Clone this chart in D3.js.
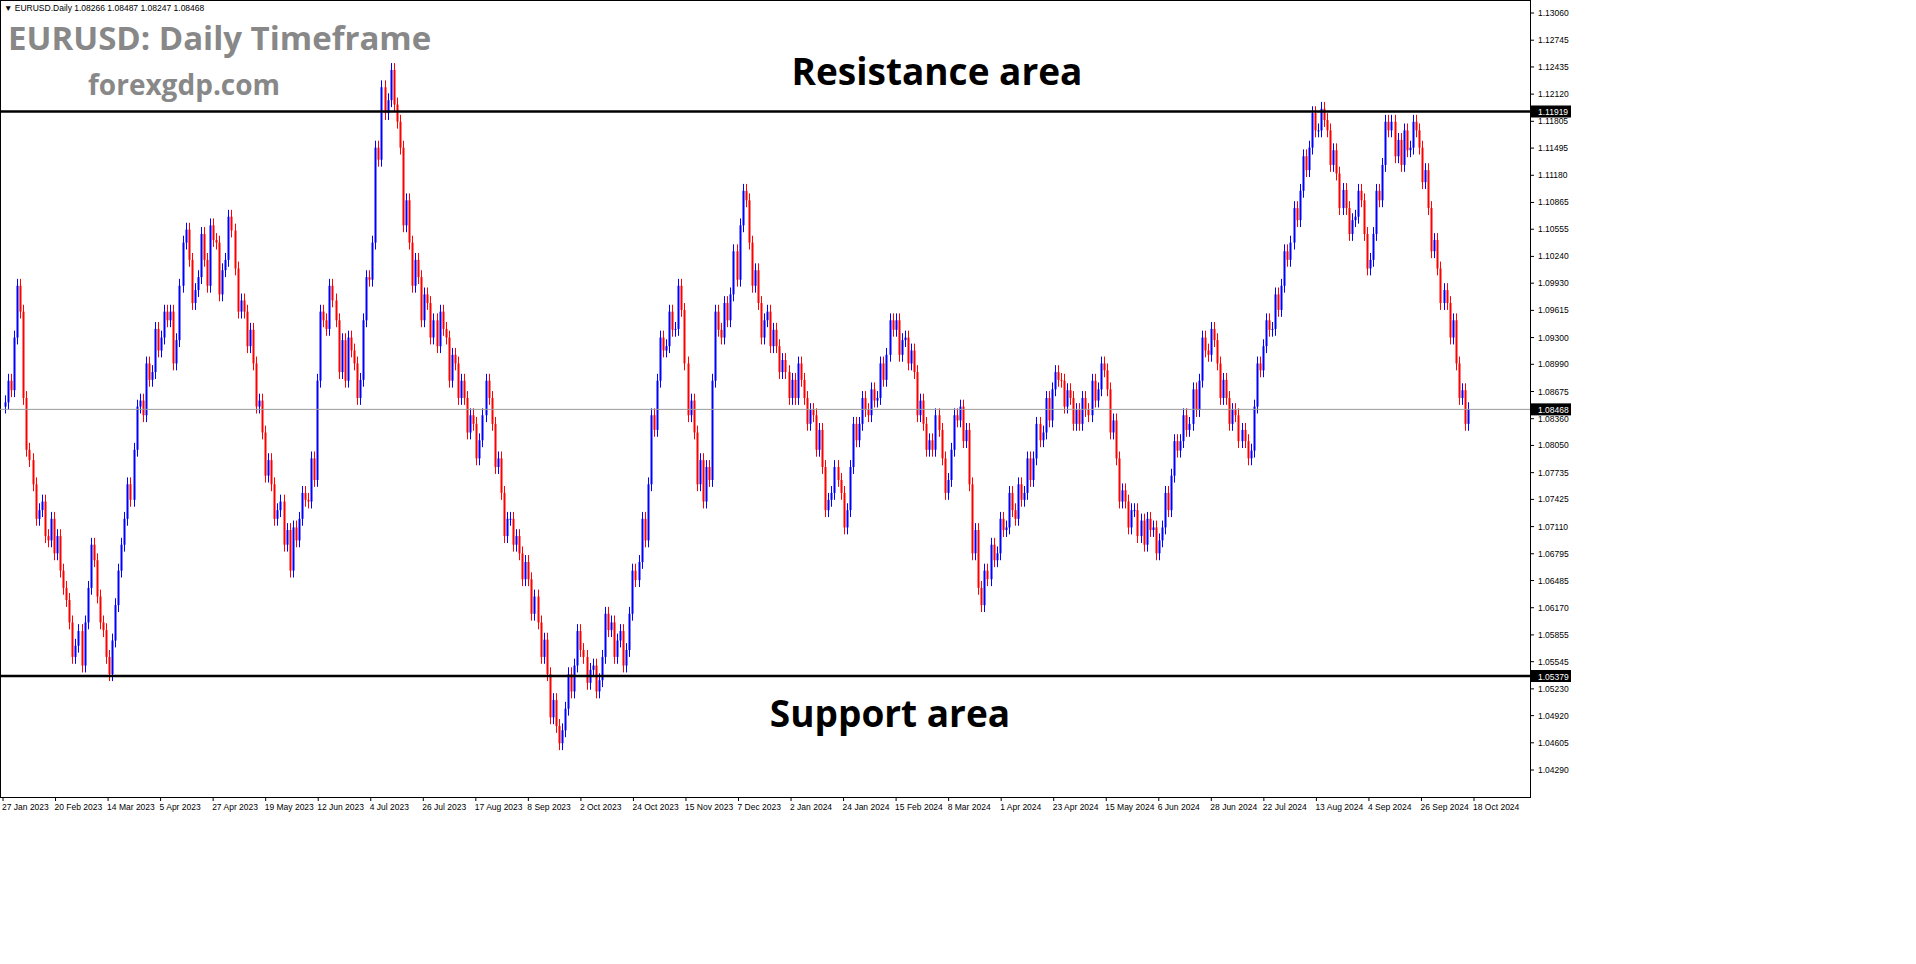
<!DOCTYPE html>
<html><head><meta charset="utf-8">
<script src="https://cdn.jsdelivr.net/npm/d3@7"></script>
<style>body{margin:0;background:#fff;}svg{display:block;font-family:"Liberation Sans",Arial,sans-serif;}</style>
</head><body><svg id="c" width="1916" height="964"></svg>
<script>
// Daily closes (price * 10000)
const closes = [
10855,10880,10869, 10930,10990,10960, 10860,10800,10788, 10760,10720,10730, 10740,10700,10695, 10720,10680,10700,
10660,10640,10626, 10600,10560,10573, 10590,10550,10600, 10640,10690,10672, 10630,10600,10591, 10560,10540,10579,
10620,10660,10690, 10720,10760,10742, 10800,10850,10857, 10840,10900,10881, 10890,10940,10915, 10930,10960,10950,
10960,10900,10927, 10990,11040,11055, 11020,10970,10985, 11000,11050,11020, 10990,11060,11043, 11040,10980,11008,
11020,11070,11054, 11010,10960,10973, 10960,10920,10939, 10900,10850,10857, 10820,10770,10788, 10760,10720,10730,
10740,10690,10707, 10660,10710,10695, 10720,10750,10742, 10740,10790,10765, 10880,10960,10950, 10940,10990,10973,
10950,10890,10927, 10880,10930,10915, 10900,10860,10881, 10950,11000,10997, 11040,11150,11136, 11220,11190,11205,
11240,11200,11180, 11150,11060,11089, 11040,10990,11020, 11000,10950,10980, 10970,10930,10950, 10920,10960,10940,
10930,10880,10910, 10900,10860,10880, 10860,10820,10840, 10830,10790,10811, 10840,10880,10860, 10830,10780,10790,
10750,10700,10720, 10720,10690,10700, 10680,10650,10670, 10650,10610,10630, 10600,10560,10580, 10540,10490,10510,
10480,10460,10475, 10500,10540,10520, 10550,10590,10568, 10560,10530,10545, 10550,10520,10533, 10560,10610,10591,
10600,10560,10579, 10590,10550,10568, 10610,10660,10649, 10670,10720,10695, 10760,10840,10823, 10880,10930,10915,
10920,10960,10939, 10940,10990,10962, 10900,10840,10857, 10820,10760,10788, 10740,10780,10765, 10880,10960,10939,
10930,10970,10950, 10980,11030,10997, 11060,11100,11089, 11040,10990,11008, 10970,10930,10950, 10960,10920,10939,
10920,10890,10904, 10890,10860,10881, 10860,10900,10881, 10860,10830,10846, 10840,10800,10823, 10780,10730,10742,
10750,10780,10765, 10750,10710,10730, 10780,10830,10811, 10830,10860,10846, 10840,10870,10857, 10860,10900,10881,
10910,10950,10939, 10950,10910,10927, 10930,10900,10915, 10890,10840,10857, 10830,10800,10811, 10800,10840,10823,
10790,10750,10765, 10800,10840,10834, 10850,10810,10823, 10760,10680,10707, 10640,10620,10660, 10650,10690,10672,
10680,10720,10707, 10710,10750,10730, 10720,10760,10742, 10750,10790,10765, 10790,10830,10811, 10820,10860,10834,
10870,10890,10881, 10880,10850,10869, 10860,10830,10846, 10830,10860,10846, 10840,10880,10857, 10870,10900,10892,
10870,10820,10834, 10790,10740,10753, 10740,10710,10730, 10730,10700,10718, 10690,10720,10707, 10710,10680,10695,
10710,10750,10730, 10770,10810,10799, 10810,10840,10823, 10830,10870,10846, 10880,10930,10915, 10910,10940,10927,
10900,10860,10881, 10860,10830,10846, 10840,10810,10823, 10810,10790,10799, 10850,10900,10892, 10920,10950,10939,
10940,10980,10962, 10990,11030,11020, 11040,11080,11066, 11100,11140,11124, 11150,11190,11170, 11170,11195,11182,
11170,11130,11147, 11120,11080,11101, 11080,11050,11066, 11070,11100,11089, 11050,11010,11020, 11050,11100,11089,
11130,11180,11170, 11180,11140,11159, 11130,11170,11147, 11150,11180,11170, 11150,11110,11124, 11080,11030,11043,
11010,10970,10985, 10970,10930,10950, 10900,10860,10869, 10830,10847
];
const priceTicks = ["1.13060","1.12745","1.12435","1.12120","1.11805","1.11495","1.11180","1.10865","1.10555","1.10240","1.09930","1.09615","1.09300","1.08990","1.08675","1.08360","1.08050","1.07735","1.07425","1.07110","1.06795","1.06485","1.06170","1.05855","1.05545","1.05230","1.04920","1.04605","1.04290"];
const dateLabels = ["27 Jan 2023","20 Feb 2023","14 Mar 2023","5 Apr 2023","27 Apr 2023","19 May 2023","12 Jun 2023","4 Jul 2023","26 Jul 2023","17 Aug 2023","8 Sep 2023","2 Oct 2023","24 Oct 2023","15 Nov 2023","7 Dec 2023","2 Jan 2024","24 Jan 2024","15 Feb 2024","8 Mar 2024","1 Apr 2024","23 Apr 2024","15 May 2024","6 Jun 2024","28 Jun 2024","22 Jul 2024","13 Aug 2024","4 Sep 2024","26 Sep 2024","18 Oct 2024"];
const levels = {resistance:1.11919, support:1.05379, last:1.08468};

const svg = d3.select("#c");
const R=1530, B=797;
const y = d3.scaleLinear().domain([1.0429,1.1306]).range([770,13]);
const N = closes.length;
const x = d3.scaleLinear().domain([0,N-1]).range([5,1468]);
const xd = d3.scaleLinear().domain([0,28]).range([3,1474]);

svg.append("rect").attr("x",0.5).attr("y",0.5).attr("width",R).attr("height",B).attr("fill","#fff").attr("stroke","#000");

const data = closes.map((c,i)=>{const o = i? closes[i-1]/1e4 : 1.0850; const cl=c/1e4; return {i,o,c:cl,h:Math.max(o,cl)+0.0008,l:Math.min(o,cl)-0.0008};});
const g = svg.append("g");
data.forEach(d=>{
  const col = d.c>=d.o ? "#0000ff" : "#ff0000";
  const xx = Math.round(x(d.i))+0.5;
  g.append("line").attr("x1",xx).attr("x2",xx).attr("y1",y(d.h)).attr("y2",y(d.l)).attr("stroke",col).attr("stroke-width",1);
  g.append("rect").attr("x",xx-1).attr("width",2).attr("y",y(Math.max(d.o,d.c))).attr("height",Math.max(1,Math.abs(y(d.o)-y(d.c)))).attr("fill",col);
});

svg.append("line").attr("x1",0).attr("x2",R).attr("y1",y(levels.last)).attr("y2",y(levels.last)).attr("stroke","#999").attr("stroke-width",1);
[levels.resistance,levels.support].forEach(v=>svg.append("line").attr("x1",0).attr("x2",R).attr("y1",y(v)).attr("y2",y(v)).attr("stroke","#000").attr("stroke-width",2.5));

priceTicks.forEach(t=>{
  const yy=y(+t);
  svg.append("line").attr("x1",R).attr("x2",R+4).attr("y1",yy).attr("y2",yy).attr("stroke","#000");
  svg.append("text").attr("x",R+8).attr("y",yy+3).attr("font-size",8.5).text(t);
});
[[levels.resistance,"1.11919"],[levels.support,"1.05379"],[levels.last,"1.08468"]].forEach(([v,t])=>{
  svg.append("rect").attr("x",R+1).attr("y",y(v)-6).attr("width",40).attr("height",12).attr("fill","#000");
  svg.append("text").attr("x",R+8).attr("y",y(v)+3.5).attr("font-size",8.5).attr("fill","#fff").text(t);
});

dateLabels.forEach((t,k)=>{
  const xx=xd(k);
  svg.append("line").attr("x1",xx).attr("x2",xx).attr("y1",B).attr("y2",B+4).attr("stroke","#000");
  svg.append("text").attr("x",xx-1).attr("y",B+13).attr("font-size",8.5).text(t);
});

svg.append("text").attr("x",4).attr("y",11).attr("font-size",8.5).text("▼ EURUSD.Daily  1.08266 1.08487 1.08247 1.08468");
svg.append("text").attr("x",8).attr("y",50).attr("font-size",33).attr("font-weight","bold").attr("fill","#888").attr("font-family","'Open Sans',sans-serif").text("EURUSD: Daily Timeframe");
svg.append("text").attr("x",88).attr("y",95).attr("font-size",28).attr("font-weight","bold").attr("fill","#888").attr("font-family","'Open Sans',sans-serif").text("forexgdp.com");
svg.append("text").attr("x",937).attr("y",85).attr("text-anchor","middle").attr("font-size",37).attr("font-weight","bold").attr("font-family","'Open Sans',sans-serif").text("Resistance area");
svg.append("text").attr("x",890).attr("y",727).attr("text-anchor","middle").attr("font-size",37).attr("font-weight","bold").attr("font-family","'Open Sans',sans-serif").text("Support area");
</script></body></html>
